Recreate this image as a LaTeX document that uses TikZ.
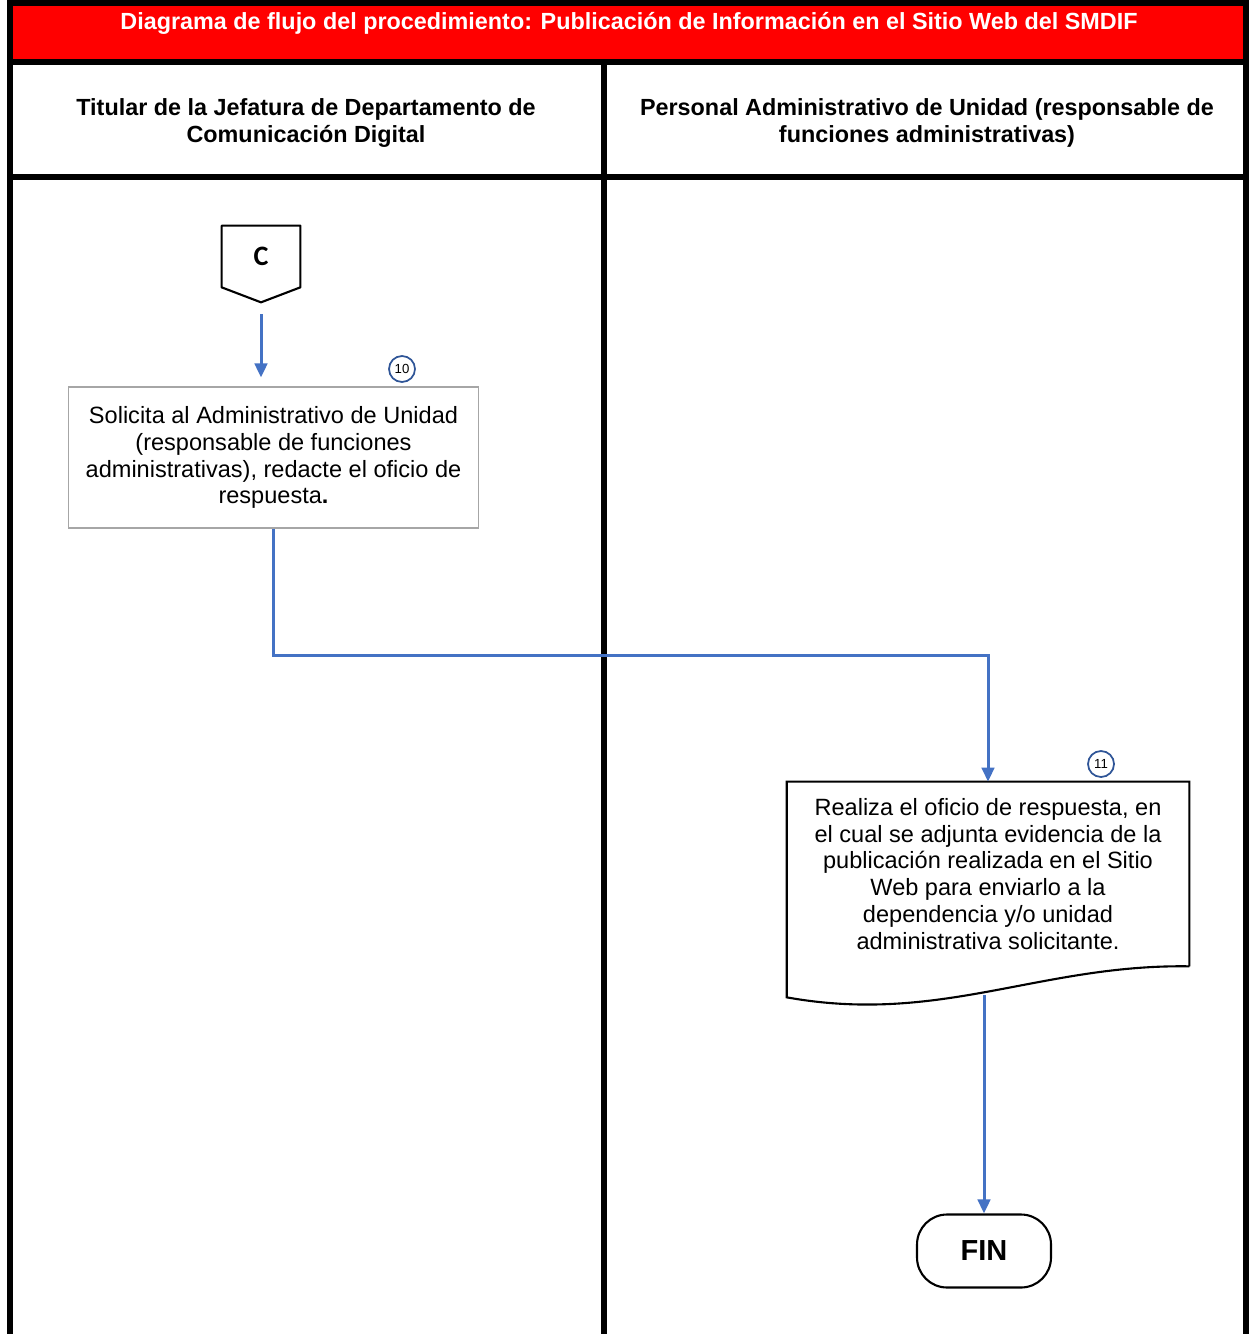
\documentclass[tikz,border=0pt]{standalone}
\usepackage{fontspec}
\setmainfont{Liberation Sans}
\newfontfamily\carlito{Carlito}
\usetikzlibrary{arrows.meta}
\usetikzlibrary{positioning}
\definecolor{flowblue}{RGB}{68,114,196}
\definecolor{numblue}{RGB}{47,85,151}
\definecolor{headred}{RGB}{255,0,0}
\tikzset{frame/.style = {line width = 0.12cm, black}}
\tikzset{flow/.style = {draw = flowblue, line width = 0.06cm,
                        -{Triangle[length = 0.28cm, width = 0.25cm]}}}
\tikzset{stepbox/.style = {draw = gray!70, line width = 0.6pt, align = center,
                           minimum width = 8.22cm, minimum height = 2.82cm,
                           font = \fontsize{13.4}{15.3}\selectfont}}
\tikzset{num/.style = {draw = numblue, circle, line width = 1pt, inner sep = 0,
                       minimum size = 0.52cm, font = \fontsize{7.5}{8}\selectfont}}
\tikzset{lane/.style = {align = center, font = \bfseries\fontsize{13.3}{15.3}\selectfont}}

\begin{document}
\begin{tikzpicture}[x = 0.02cm, y = -0.02cm]
    \useasboundingbox (0, 0) rectangle (1249, 1334);

    % header and lanes
    \fill [headred] (10, 3) rectangle (1246, 62);
    \node [lane, text = white] (title) at (629, 23)
        {Diagrama de flujo del procedimiento: Publicación de Información en el Sitio Web del SMDIF};
    \node [lane] (laneA) at (306, 123) {Titular de la Jefatura de Departamento de\\Comunicación Digital};
    \node [lane] (laneB) at (927, 123) {Personal Administrativo de Unidad (responsable de\\funciones administrativas)};
    \draw [frame] (10, 3) -- (1246, 3);
    \draw [frame] (10, 62) -- (1246, 62);
    \draw [frame] (10, 177) -- (1246, 177);
    \draw [frame] (10, 0) -- (10, 1334);
    \draw [frame] (604, 62) -- (604, 1334);
    \draw [frame] (1246, 0) -- (1246, 1334);

    % connector C
    \node [minimum width = 1.56cm, minimum height = 1.22cm, font = \carlito\bfseries\fontsize{16}{17}\selectfont]
        (conC) at (261, 256.5) {C};
    \coordinate (tipC) at ([yshift = -0.3cm] conC.south);
    \draw [line width = 1.2pt, line join = round] (conC.north west) -- (conC.north east) -- (conC.south east)
        -- (tipC) -- (conC.south west) -- cycle;

    % step 10
    \node [stepbox] (paso10) at (273.5, 457.5)
        {Solicita al Administrativo de Unidad\\(responsable de funciones\\administrativas), redacte el oficio de\\respuesta\textbf{.}};
    \node [num] (n10) at (402, 369) {10};
    \draw [flow, shorten <= 0.24cm, shorten >= 0.18cm] (tipC) -- (tipC |- paso10.north);

    % step 11
    \node [align = center, minimum width = 8.04cm, minimum height = 3.68cm, font = \fontsize{13.4}{15.3}\selectfont]
        (paso11) at (988, 874)
        {Realiza el oficio de respuesta, en\\el cual se adjunta evidencia de la\\publicación realizada en el Sitio\\Web para enviarlo a la\\dependencia y/o unidad\\administrativa solicitante.};
    \draw [line width = 1.2pt] (paso11.south east) -- (paso11.north east) -- (paso11.north west)
        -- ([yshift = -0.62cm] paso11.south west)
        .. controls (940, 1025) and (1040, 964) .. (paso11.south east);
    \node [num] (n11) at (1101, 764) {11};
    \coordinate (pie11) at (984, 995);
    \draw [flow] (paso10.south) -- ++(0, 127) -| (paso11.north);

    % end
    \node [draw, line width = 1.2pt, rounded corners = 0.6cm, minimum width = 2.68cm, minimum height = 1.46cm,
           font = \bfseries\fontsize{16.5}{18}\selectfont] (fin) at (984, 1251) {FIN};
    \draw [flow] (pie11) -- (fin.north);
\end{tikzpicture}
\end{document}
